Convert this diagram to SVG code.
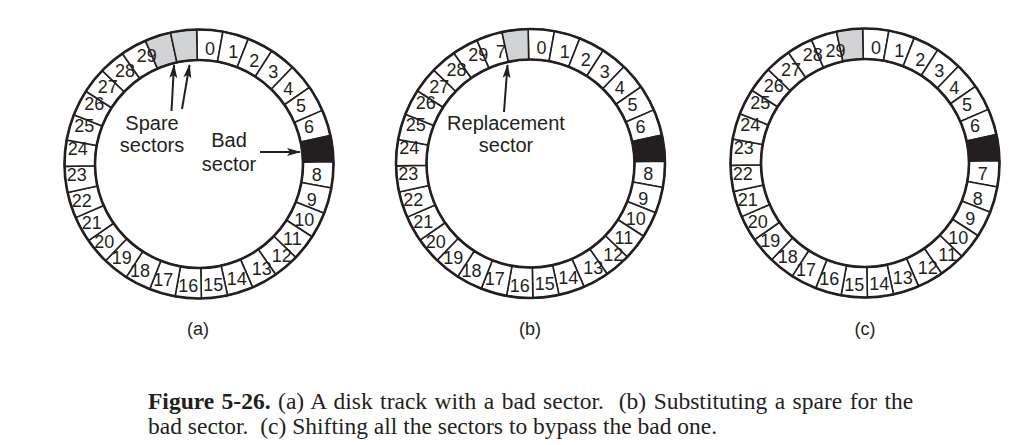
<svg xmlns="http://www.w3.org/2000/svg" xmlns:xlink="http://www.w3.org/1999/xlink" width="1024" height="445" viewBox="0 0 1024 445">
<style>
.sec{fill:#fff;stroke:#231f20;stroke-width:1.6;stroke-linejoin:round}
.gray{fill:#d1d3d4}
.bad{fill:#231f20}
.ring{fill:none;stroke:#231f20;stroke-width:2.6}
.n{font-family:"Liberation Sans",Arial,sans-serif;font-size:18px;fill:#231f20;text-anchor:middle}
.lbl{font-family:"Liberation Sans",Arial,sans-serif;font-size:20px;fill:#231f20;text-anchor:middle}
.cap{font-family:"Liberation Sans",Arial,sans-serif;font-size:18px;fill:#231f20;text-anchor:middle}
.fig{font-family:"Liberation Serif","Times New Roman",serif;font-size:23.5px;fill:#231f20}
.arr{fill:none;stroke:#231f20;stroke-width:2;marker-end:url(#ah)}
</style>
<defs>
<path id="sec" d="M0,-134.5 A134.5,134.5 0 0 1 26.24,-131.92 L20.29,-102 A104,104 0 0 0 0,-104 Z"/>
<marker id="ah" markerUnits="userSpaceOnUse" markerWidth="14" markerHeight="10" viewBox="0 0 14 10" refX="13" refY="5" orient="auto">
<path d="M0,1 L14,5 L0,9 L3,5 Z" fill="#231f20"/>
</marker>
</defs>
<rect width="1024" height="445" fill="#fff"/>

<!-- Disk (a) -->
<g id="disk-a" transform="translate(199,164)">
<g id="a-sectors">
<use xlink:href="#sec" class="sec" transform="rotate(-1)"/>
<use xlink:href="#sec" class="sec" transform="rotate(10.25)"/>
<use xlink:href="#sec" class="sec" transform="rotate(21.5)"/>
<use xlink:href="#sec" class="sec" transform="rotate(32.75)"/>
<use xlink:href="#sec" class="sec" transform="rotate(44)"/>
<use xlink:href="#sec" class="sec" transform="rotate(55.25)"/>
<use xlink:href="#sec" class="sec" transform="rotate(66.5)"/>
<use xlink:href="#sec" class="sec bad" transform="rotate(77.75)"/>
<use xlink:href="#sec" class="sec" transform="rotate(89)"/>
<use xlink:href="#sec" class="sec" transform="rotate(100.25)"/>
<use xlink:href="#sec" class="sec" transform="rotate(111.5)"/>
<use xlink:href="#sec" class="sec" transform="rotate(122.75)"/>
<use xlink:href="#sec" class="sec" transform="rotate(134)"/>
<use xlink:href="#sec" class="sec" transform="rotate(145.25)"/>
<use xlink:href="#sec" class="sec" transform="rotate(156.5)"/>
<use xlink:href="#sec" class="sec" transform="rotate(167.75)"/>
<use xlink:href="#sec" class="sec" transform="rotate(179)"/>
<use xlink:href="#sec" class="sec" transform="rotate(190.25)"/>
<use xlink:href="#sec" class="sec" transform="rotate(201.5)"/>
<use xlink:href="#sec" class="sec" transform="rotate(212.75)"/>
<use xlink:href="#sec" class="sec" transform="rotate(224)"/>
<use xlink:href="#sec" class="sec" transform="rotate(235.25)"/>
<use xlink:href="#sec" class="sec" transform="rotate(246.5)"/>
<use xlink:href="#sec" class="sec" transform="rotate(257.75)"/>
<use xlink:href="#sec" class="sec" transform="rotate(269)"/>
<use xlink:href="#sec" class="sec" transform="rotate(280.25)"/>
<use xlink:href="#sec" class="sec" transform="rotate(291.5)"/>
<use xlink:href="#sec" class="sec" transform="rotate(302.75)"/>
<use xlink:href="#sec" class="sec" transform="rotate(314)"/>
<use xlink:href="#sec" class="sec" transform="rotate(325.25)"/>
<use xlink:href="#sec" class="sec gray" transform="rotate(336.5)"/>
<use xlink:href="#sec" class="sec gray" transform="rotate(347.75)"/>
</g>
<circle class="ring" r="134.5"/>
<circle class="ring" r="104"/>
<g id="a-numbers">
<text class="n" x="11" y="-109.2">0</text>
<text class="n" x="34.3" y="-105.8">1</text>
<text class="n" x="55.3" y="-97.5">2</text>
<text class="n" x="74.3" y="-85.8">3</text>
<text class="n" x="89.3" y="-69.2">4</text>
<text class="n" x="102" y="-52.5">5</text>
<text class="n" x="110" y="-30.8">6</text>
<text class="n" x="117.7" y="16.5">8</text>
<text class="n" x="112.7" y="41.5">9</text>
<text class="n" x="105.3" y="61.8">10</text>
<text class="n" x="93.3" y="80.8">11</text>
<text class="n" x="82.7" y="97.5">12</text>
<text class="n" x="62.7" y="110.8">13</text>
<text class="n" x="37.7" y="120.8">14</text>
<text class="n" x="14.3" y="126.8">15</text>
<text class="n" x="-10.7" y="128.2">16</text>
<text class="n" x="-35.7" y="121.8">17</text>
<text class="n" x="-59" y="113.2">18</text>
<text class="n" x="-77.3" y="100.2">19</text>
<text class="n" x="-94.7" y="84.2">20</text>
<text class="n" x="-107.3" y="64.8">21</text>
<text class="n" x="-117.3" y="42.5">22</text>
<text class="n" x="-122.3" y="16.5">23</text>
<text class="n" x="-121.3" y="-9.2">24</text>
<text class="n" x="-114.7" y="-32.5">25</text>
<text class="n" x="-104.7" y="-54.2">26</text>
<text class="n" x="-91.3" y="-70.8">27</text>
<text class="n" x="-74" y="-87.5">28</text>
<text class="n" x="-52.3" y="-102.5">29</text>
</g>
</g>
<g id="label-spare">
<text class="lbl" x="152" y="130">Spare</text>
<text class="lbl" x="152" y="152">sectors</text>
</g>
<g id="label-bad">
<text class="lbl" x="229" y="147">Bad</text>
<text class="lbl" x="229" y="171">sector</text>
</g>

<!-- Disk (b) -->
<g id="disk-b" transform="translate(530.5,163.5)">
<g id="b-sectors">
<use xlink:href="#sec" class="sec" transform="rotate(-1)"/>
<use xlink:href="#sec" class="sec" transform="rotate(10.25)"/>
<use xlink:href="#sec" class="sec" transform="rotate(21.5)"/>
<use xlink:href="#sec" class="sec" transform="rotate(32.75)"/>
<use xlink:href="#sec" class="sec" transform="rotate(44)"/>
<use xlink:href="#sec" class="sec" transform="rotate(55.25)"/>
<use xlink:href="#sec" class="sec" transform="rotate(66.5)"/>
<use xlink:href="#sec" class="sec bad" transform="rotate(77.75)"/>
<use xlink:href="#sec" class="sec" transform="rotate(89)"/>
<use xlink:href="#sec" class="sec" transform="rotate(100.25)"/>
<use xlink:href="#sec" class="sec" transform="rotate(111.5)"/>
<use xlink:href="#sec" class="sec" transform="rotate(122.75)"/>
<use xlink:href="#sec" class="sec" transform="rotate(134)"/>
<use xlink:href="#sec" class="sec" transform="rotate(145.25)"/>
<use xlink:href="#sec" class="sec" transform="rotate(156.5)"/>
<use xlink:href="#sec" class="sec" transform="rotate(167.75)"/>
<use xlink:href="#sec" class="sec" transform="rotate(179)"/>
<use xlink:href="#sec" class="sec" transform="rotate(190.25)"/>
<use xlink:href="#sec" class="sec" transform="rotate(201.5)"/>
<use xlink:href="#sec" class="sec" transform="rotate(212.75)"/>
<use xlink:href="#sec" class="sec" transform="rotate(224)"/>
<use xlink:href="#sec" class="sec" transform="rotate(235.25)"/>
<use xlink:href="#sec" class="sec" transform="rotate(246.5)"/>
<use xlink:href="#sec" class="sec" transform="rotate(257.75)"/>
<use xlink:href="#sec" class="sec" transform="rotate(269)"/>
<use xlink:href="#sec" class="sec" transform="rotate(280.25)"/>
<use xlink:href="#sec" class="sec" transform="rotate(291.5)"/>
<use xlink:href="#sec" class="sec" transform="rotate(302.75)"/>
<use xlink:href="#sec" class="sec" transform="rotate(314)"/>
<use xlink:href="#sec" class="sec" transform="rotate(325.25)"/>
<use xlink:href="#sec" class="sec" transform="rotate(336.5)"/>
<use xlink:href="#sec" class="sec gray" transform="rotate(347.75)"/>
</g>
<circle class="ring" r="134.5"/>
<circle class="ring" r="104"/>
<g id="b-numbers">
<text class="n" x="11" y="-109.2">0</text>
<text class="n" x="34.3" y="-105.8">1</text>
<text class="n" x="55.3" y="-97.5">2</text>
<text class="n" x="74.3" y="-85.8">3</text>
<text class="n" x="89.3" y="-69.2">4</text>
<text class="n" x="102" y="-52.5">5</text>
<text class="n" x="110" y="-30.8">6</text>
<text class="n" x="117.7" y="16.5">8</text>
<text class="n" x="112.7" y="41.5">9</text>
<text class="n" x="105.3" y="61.8">10</text>
<text class="n" x="93.3" y="80.8">11</text>
<text class="n" x="82.7" y="97.5">12</text>
<text class="n" x="62.7" y="110.8">13</text>
<text class="n" x="37.7" y="120.8">14</text>
<text class="n" x="14.3" y="126.8">15</text>
<text class="n" x="-10.7" y="128.2">16</text>
<text class="n" x="-35.7" y="121.8">17</text>
<text class="n" x="-59" y="113.2">18</text>
<text class="n" x="-77.3" y="100.2">19</text>
<text class="n" x="-94.7" y="84.2">20</text>
<text class="n" x="-107.3" y="64.8">21</text>
<text class="n" x="-117.3" y="42.5">22</text>
<text class="n" x="-122.3" y="16.5">23</text>
<text class="n" x="-121.3" y="-9.2">24</text>
<text class="n" x="-114.7" y="-32.5">25</text>
<text class="n" x="-104.7" y="-54.2">26</text>
<text class="n" x="-91.3" y="-70.8">27</text>
<text class="n" x="-74" y="-87.5">28</text>
<text class="n" x="-52.3" y="-102.5">29</text>
<text class="n" x="-29.5" y="-105.8">7</text>
</g>
</g>
<g id="label-replacement">
<text class="lbl" x="506" y="130">Replacement</text>
<text class="lbl" x="506" y="152">sector</text>
</g>

<!-- Disk (c) -->
<g id="disk-c" transform="translate(865,163)">
<g id="c-sectors">
<use xlink:href="#sec" class="sec" transform="rotate(-1)"/>
<use xlink:href="#sec" class="sec" transform="rotate(10.25)"/>
<use xlink:href="#sec" class="sec" transform="rotate(21.5)"/>
<use xlink:href="#sec" class="sec" transform="rotate(32.75)"/>
<use xlink:href="#sec" class="sec" transform="rotate(44)"/>
<use xlink:href="#sec" class="sec" transform="rotate(55.25)"/>
<use xlink:href="#sec" class="sec" transform="rotate(66.5)"/>
<use xlink:href="#sec" class="sec bad" transform="rotate(77.75)"/>
<use xlink:href="#sec" class="sec" transform="rotate(89)"/>
<use xlink:href="#sec" class="sec" transform="rotate(100.25)"/>
<use xlink:href="#sec" class="sec" transform="rotate(111.5)"/>
<use xlink:href="#sec" class="sec" transform="rotate(122.75)"/>
<use xlink:href="#sec" class="sec" transform="rotate(134)"/>
<use xlink:href="#sec" class="sec" transform="rotate(145.25)"/>
<use xlink:href="#sec" class="sec" transform="rotate(156.5)"/>
<use xlink:href="#sec" class="sec" transform="rotate(167.75)"/>
<use xlink:href="#sec" class="sec" transform="rotate(179)"/>
<use xlink:href="#sec" class="sec" transform="rotate(190.25)"/>
<use xlink:href="#sec" class="sec" transform="rotate(201.5)"/>
<use xlink:href="#sec" class="sec" transform="rotate(212.75)"/>
<use xlink:href="#sec" class="sec" transform="rotate(224)"/>
<use xlink:href="#sec" class="sec" transform="rotate(235.25)"/>
<use xlink:href="#sec" class="sec" transform="rotate(246.5)"/>
<use xlink:href="#sec" class="sec" transform="rotate(257.75)"/>
<use xlink:href="#sec" class="sec" transform="rotate(269)"/>
<use xlink:href="#sec" class="sec" transform="rotate(280.25)"/>
<use xlink:href="#sec" class="sec" transform="rotate(291.5)"/>
<use xlink:href="#sec" class="sec" transform="rotate(302.75)"/>
<use xlink:href="#sec" class="sec" transform="rotate(314)"/>
<use xlink:href="#sec" class="sec" transform="rotate(325.25)"/>
<use xlink:href="#sec" class="sec" transform="rotate(336.5)"/>
<use xlink:href="#sec" class="sec gray" transform="rotate(347.75)"/>
</g>
<circle class="ring" r="134.5"/>
<circle class="ring" r="104"/>
<g id="c-numbers">
<text class="n" x="11" y="-109.2">0</text>
<text class="n" x="34.3" y="-105.8">1</text>
<text class="n" x="55.3" y="-97.5">2</text>
<text class="n" x="74.3" y="-85.8">3</text>
<text class="n" x="89.3" y="-69.2">4</text>
<text class="n" x="102" y="-52.5">5</text>
<text class="n" x="110" y="-30.8">6</text>
<text class="n" x="117.7" y="16.5">7</text>
<text class="n" x="112.7" y="41.5">8</text>
<text class="n" x="105.3" y="61.8">9</text>
<text class="n" x="93.3" y="80.8">10</text>
<text class="n" x="82.7" y="97.5">11</text>
<text class="n" x="62.7" y="110.8">12</text>
<text class="n" x="37.7" y="120.8">13</text>
<text class="n" x="14.3" y="126.8">14</text>
<text class="n" x="-10.7" y="128.2">15</text>
<text class="n" x="-35.7" y="121.8">16</text>
<text class="n" x="-59" y="113.2">17</text>
<text class="n" x="-77.3" y="100.2">18</text>
<text class="n" x="-94.7" y="84.2">19</text>
<text class="n" x="-107.3" y="64.8">20</text>
<text class="n" x="-117.3" y="42.5">21</text>
<text class="n" x="-122.3" y="16.5">22</text>
<text class="n" x="-121.3" y="-9.2">23</text>
<text class="n" x="-114.7" y="-32.5">24</text>
<text class="n" x="-104.7" y="-54.2">25</text>
<text class="n" x="-91.3" y="-70.8">26</text>
<text class="n" x="-74" y="-87.5">27</text>
<text class="n" x="-52.3" y="-102.5">28</text>
<text class="n" x="-29.5" y="-105.8">29</text>
</g>
</g>

<g id="connectors">
<line class="arr" x1="171.5" y1="111" x2="174" y2="65"/>
<line class="arr" x1="182" y1="109" x2="189.5" y2="65"/>
<line class="arr" x1="260" y1="152" x2="300" y2="152"/>
<line class="arr" x1="504" y1="112" x2="507.5" y2="65"/>
</g>

<g id="sublabels">
<text class="cap" x="198" y="335">(a)</text>
<text class="cap" x="530" y="335">(b)</text>
<text class="cap" x="865" y="335">(c)</text>
</g>

<g id="caption">
<text class="fig" x="148" y="409" word-spacing="1.6" xml:space="preserve"><tspan font-weight="bold">Figure 5-26.</tspan> (a) A disk track with a bad sector.  (b) Substituting a spare for the</text>
<text class="fig" x="148" y="434" xml:space="preserve">bad sector.  (c) Shifting all the sectors to bypass the bad one.</text>
</g>
</svg>
